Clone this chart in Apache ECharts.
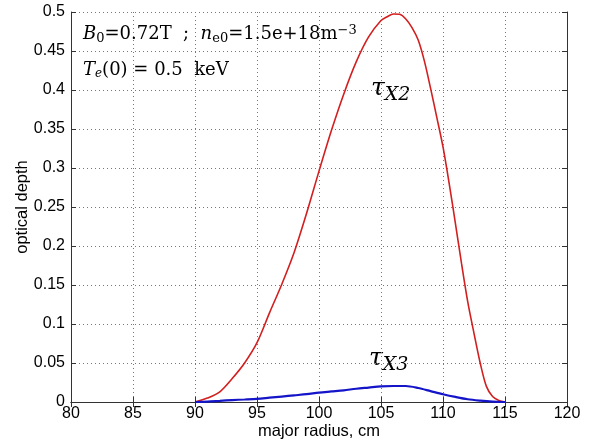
<!DOCTYPE html>
<html>
<head>
<meta charset="utf-8">
<script src="https://cdn.jsdelivr.net/npm/echarts@6/dist/echarts.min.js"></script>
<style>html,body{margin:0;padding:0;background:#fff}#c{width:589px;height:445px}</style>
</head>
<body>
<div id="c"></div>
<script>
// Data (major radius in cm, optical depth)
const radiusX2 = [90, 91, 92, 93, 94, 95, 96, 97, 98, 99, 100, 101, 102, 103, 104, 105, 105.5, 106, 106.5, 107, 107.5, 108, 108.5, 109, 109.5, 110, 110.5, 111, 111.5, 112, 112.5, 113, 113.5, 114, 114.5, 115];
const tauX2 = [0, 0.005, 0.013, 0.030, 0.050, 0.076, 0.114, 0.151, 0.192, 0.242, 0.296, 0.348, 0.395, 0.436, 0.468, 0.489, 0.494, 0.4975, 0.497, 0.491, 0.480, 0.464, 0.437, 0.402, 0.365, 0.327, 0.280, 0.229, 0.177, 0.128, 0.088, 0.050, 0.020, 0.007, 0.002, 0];
const radiusX3 = [90, 91, 92, 93, 94, 95, 96, 97, 98, 99, 100, 101, 102, 103, 104, 105, 106, 107, 108, 109, 110, 111, 112, 113, 114, 115];
const tauX3 = [0, 0.0005, 0.0015, 0.0025, 0.0032, 0.004, 0.0055, 0.007, 0.0085, 0.010, 0.012, 0.0135, 0.015, 0.017, 0.0185, 0.020, 0.0205, 0.0205, 0.018, 0.014, 0.010, 0.0065, 0.0035, 0.0018, 0.0006, 0];
const xTicks = {min: 80, max: 120, interval: 5};
const yTicks = {min: 0, max: 0.5, interval: 0.05};

const chart = echarts.init(document.getElementById('c'), null, {renderer: 'canvas'});
const sans = 'Liberation Sans, Arial, sans-serif';
const serif = 'DejaVu Serif, serif';
const axisLine = {show: true, lineStyle: {color: '#333', width: 1}};
const split = {show: true, lineStyle: {color: '#777', type: [1, 3], width: 1}};
function pairs(xs, ys) { return xs.map((x, i) => [x, ys[i]]); }

chart.setOption({
  animation: false,
  backgroundColor: '#fff',
  grid: {left: 71, right: 22, top: 12, bottom: 43, containLabel: false, outerBoundsMode: 'none'},
  xAxis: [{
    type: 'value', min: xTicks.min, max: xTicks.max, interval: xTicks.interval,
    name: 'major radius, cm', nameLocation: 'middle', nameGap: 21, nameMoveOverlap: false,
    nameTextStyle: {fontFamily: sans, fontSize: 16.5, color: '#000'},
    axisLine: axisLine,
    axisTick: {show: true, inside: true, length: 5, lineStyle: {color: '#333'}},
    axisLabel: {fontFamily: sans, fontSize: 16, color: '#000', margin: 4},
    splitLine: split
  }, {
    type: 'value', position: 'top', min: xTicks.min, max: xTicks.max, interval: xTicks.interval,
    axisLine: axisLine,
    axisTick: {show: true, inside: true, length: 5, lineStyle: {color: '#333'}},
    axisLabel: {show: false}, splitLine: {show: false}
  }],
  yAxis: [{
    type: 'value', min: yTicks.min, max: yTicks.max, interval: yTicks.interval,
    name: 'optical depth', nameLocation: 'middle', nameGap: 40, nameRotate: 90, nameMoveOverlap: false,
    nameTextStyle: {fontFamily: sans, fontSize: 16.5, color: '#000'},
    axisLine: axisLine,
    axisTick: {show: true, inside: true, length: 5, lineStyle: {color: '#333'}},
    axisLabel: {fontFamily: sans, fontSize: 16, color: '#000', margin: 6},
    splitLine: split
  }, {
    type: 'value', position: 'right', min: yTicks.min, max: yTicks.max, interval: yTicks.interval,
    axisLine: axisLine,
    axisTick: {show: true, inside: true, length: 5, lineStyle: {color: '#333'}},
    axisLabel: {show: false}, splitLine: {show: false}
  }],
  series: [{
    type: 'line', name: 'tauX2', data: pairs(radiusX2, tauX2), smooth: 0.3,
    showSymbol: false, lineStyle: {color: '#d21f1f', width: 1.6}, z: 3
  }, {
    type: 'line', name: 'tauX3', data: pairs(radiusX3, tauX3), smooth: 0.3,
    showSymbol: false, lineStyle: {color: '#1414c8', width: 2.2}, z: 4
  }],
  graphic: [{
    type: 'text', left: 83, top: 24,
    style: {
      text: '{i|B}{s|0}{n|=0.72T  ;  }{i|n}{s|e0}{n|=1.5e+18m}{p|−3}',
      rich: {
        i: {fontFamily: serif, fontStyle: 'italic', fontSize: 18, fill: '#000'},
        n: {fontFamily: serif, fontSize: 18, fill: '#000'},
        s: {fontFamily: serif, fontSize: 13, fill: '#000', verticalAlign: 'bottom', padding: [8, 0, 0, 0]},
        p: {fontFamily: serif, fontSize: 13, fill: '#000', verticalAlign: 'top', padding: [0, 0, 8, 0]}
      }
    }
  }, {
    type: 'text', left: 83, top: 61,
    style: {
      text: '{i|T}{s|e}{n|(0) = 0.5  keV}',
      rich: {
        i: {fontFamily: serif, fontStyle: 'italic', fontSize: 18, fill: '#000'},
        n: {fontFamily: serif, fontSize: 18, fill: '#000'},
        s: {fontFamily: serif, fontStyle: 'italic', fontSize: 12, fill: '#000', verticalAlign: 'bottom', padding: [8, 0, 0, 0]}
      }
    }
  }, {
    type: 'text', left: 371, top: 76,
    style: {
      text: '{t|τ}{s|X2}',
      rich: {
        t: {fontFamily: serif, fontStyle: 'italic', fontSize: 25, fill: '#000'},
        s: {fontFamily: serif, fontStyle: 'italic', fontSize: 19, fill: '#000', padding: [14, 0, 0, 0]}
      }
    }
  }, {
    type: 'text', left: 369, top: 346,
    style: {
      text: '{t|τ}{s|X3}',
      rich: {
        t: {fontFamily: serif, fontStyle: 'italic', fontSize: 25, fill: '#000'},
        s: {fontFamily: serif, fontStyle: 'italic', fontSize: 19, fill: '#000', padding: [14, 0, 0, 0]}
      }
    }
  }]
});
</script>
</body>
</html>
